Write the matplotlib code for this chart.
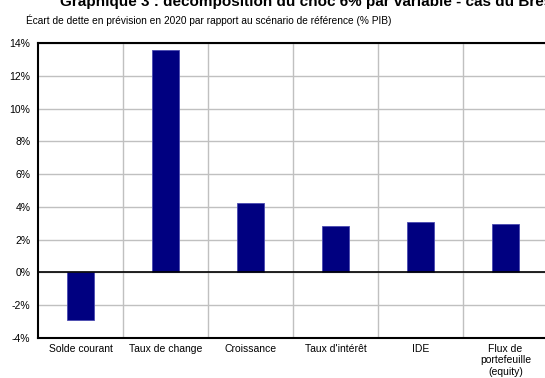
import numpy as np
import matplotlib.pyplot as plt

plt.rcParams['font.family'] = ['Liberation Sans', 'DejaVu Sans']

# Données : écart de dette en 2020 (% PIB)
categories = ["Solde courant", "Taux de change", "Croissance",
              "Taux d'intérêt", "IDE", "Flux de\nportefeuille\n(equity)"]
values = [-2.9, 13.55, 4.25, 2.85, 3.05, 2.95]
yticks = [-4, -2, 0, 2, 4, 6, 8, 10, 12, 14]

W, H = 545, 378
fig = plt.figure(figsize=(W / 100, H / 100), dpi=100)
# zone de tracé (en pixels), légèrement au-delà du bord droit
left, right, top, bottom = 38, 548, 43, 338
ax = fig.add_axes([left / W, 1 - bottom / H, (right - left) / W, (bottom - top) / H])

x = np.arange(len(categories))
ax.bar(x, values, width=0.31, color="#000080", edgecolor="#4a4ab0",
       linewidth=0.6, zorder=3)

ax.set_xlim(-0.5, len(categories) - 0.5)
ax.set_ylim(-4, 14)
ax.set_yticks(yticks)
ax.set_yticklabels([f"{v}%" for v in yticks])

# quadrillage horizontal et séparateurs verticaux
for v in yticks:
    ax.axhline(v, color="#c0c0c0", lw=1.0, zorder=1)
for b in np.arange(0.5, len(categories) - 0.5, 1):
    ax.axvline(b, color="#c0c0c0", lw=1.0, zorder=1)
ax.axhline(0, color="black", lw=1.2, zorder=4)

ax.set_xticks(x)
ax.set_xticklabels(categories, linespacing=1.2)
ax.tick_params(axis="both", length=0, labelsize=7.5)
ax.tick_params(axis="x", pad=4)
ax.tick_params(axis="y", pad=5.5)

for s in ["left", "top", "bottom"]:
    ax.spines[s].set_color("black")
    ax.spines[s].set_linewidth(1.5)
ax.spines["right"].set_visible(False)

fig.text(60 / W, 1 - 6 / H,
         "Graphique 3 : décomposition du choc 6% par variable - cas du Brésil",
         fontsize=11, fontweight="bold", ha="left", va="baseline")
fig.text(26 / W, 1 - 24 / H,
         "Écart de dette en prévision en 2020 par rapport au scénario de référence (% PIB)",
         fontsize=7.25, ha="left", va="baseline")

fig.savefig("out.png", dpi=100)
